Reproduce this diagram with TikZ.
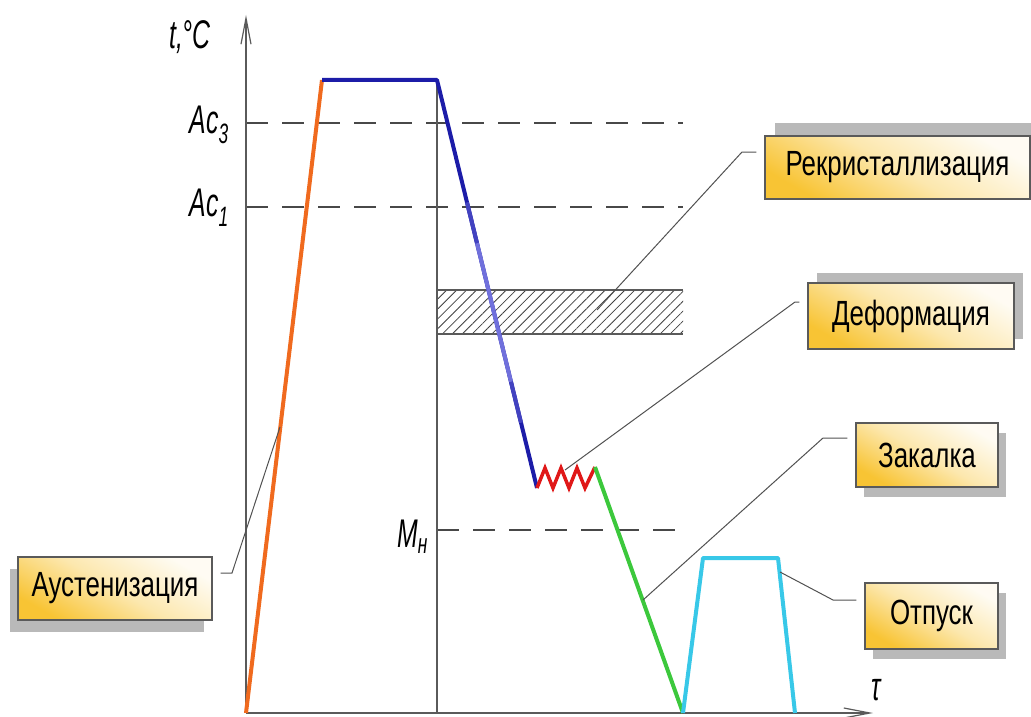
\documentclass[tikz,border=0pt]{standalone}
\usepackage{fontspec}
\setmainfont{Liberation Sans}
\newfontfamily\boxfont[FakeStretch=0.74]{Liberation Sans}
\newfontfamily\gostfont[FakeStretch=0.62]{Liberation Sans}
\usetikzlibrary{arrows.meta, positioning, shadows, patterns.meta, calc}

\definecolor{heatorange}{HTML}{F06A1E}
\definecolor{holdblue}{HTML}{1C1CA8}
\definecolor{coolblue}{HTML}{7070DC}
\definecolor{quenchgreen}{HTML}{3CC83C}
\definecolor{tempercyan}{HTML}{38C8E8}
\definecolor{deformred}{HTML}{E01818}
\definecolor{boxgold}{HTML}{F8C434}
\definecolor{axisgray}{HTML}{5A5A5A}

\begin{document}
\begin{tikzpicture}[
        x=1pt, y=-1pt,
        axis/.style={draw=axisgray, line width=1.4pt, -{Straight Barb[length=26pt, width=10pt, line width=1.2pt]}},
        level/.style={draw=axisgray!80!black, line width=1.2pt, dash pattern=on 22pt off 14pt},
        curve/.style={line width=4pt, line join=round},
        leader/.style={draw=axisgray!90!black, line width=1pt, shorten <=8pt},
        axislabel/.style={inner sep=0pt, font=\gostfont\itshape\fontsize{40}{44}\selectfont}
    ]

    \tikzset{
    box/.style={draw=axisgray, line width=1.2pt, inner sep=0pt,
        bottom color=boxgold, top color=boxgold!6!white, middle color=boxgold!40!white,
        shading angle=-30, font=\boxfont\fontsize{35}{40}\selectfont},
    shadowed/.style args={#1/#2}{drop shadow={shadow xshift=#1pt, shadow yshift=#2pt, fill=gray!55, opacity=1}}
}

    \useasboundingbox (0,0) rectangle (1031,717);

    \coordinate (O) at (246,713);
    \coordinate (ytip) at (246,15);
    \coordinate (xtip) at (873,713);
    \coordinate (heattop) at (322,80);
    \coordinate (holdend) at (437,80);
    \coordinate (deformstart) at (537,488);
    \coordinate (deformend) at (595,467);
    \coordinate (quenchend) at (683,713);
    \coordinate (temperup) at (703,558);
    \coordinate (temperhold) at (778,558);
    \coordinate (temperend) at (795,713);

    \fill[pattern={Lines[angle=45, distance=7pt, line width=0.8pt]}, pattern color=black!75]
        (437,290) rectangle (683,334);
    \draw[axisgray, line width=1.2pt] (437,290) -- (683,290) (437,334) -- (683,334);

    \draw[level] (246,123) -- (683,123);
    \draw[level] (246,207) -- (683,207);
    \draw[level] (437,530) -- (683,530);
    \draw[axisgray, line width=1.3pt] (holdend) -- (437,713);

    \draw[axis] (O) -- (ytip);
    \draw[axis] (O) -- (xtip);

    \draw[curve, heatorange] (O) -- (heattop);
    \draw[curve, holdblue] (heattop) -- (holdend) -- (deformstart);
    \draw[line width=4pt, holdblue!55!coolblue] ($(holdend)!0.30!(deformstart)$) -- ($(holdend)!0.40!(deformstart)$);
    \draw[line width=4pt, coolblue] ($(holdend)!0.40!(deformstart)$) -- ($(holdend)!0.74!(deformstart)$);
    \draw[line width=4pt, holdblue!55!coolblue] ($(holdend)!0.74!(deformstart)$) -- ($(holdend)!0.84!(deformstart)$);
    \draw[deformred, line width=3.5pt, line join=miter] (deformstart) -- (545,468) -- (553,488) -- (561,468)
        -- (569,488) -- (577,468) -- (585,488) -- (deformend);
    \draw[curve, quenchgreen] (deformend) -- (quenchend);
    \draw[curve, tempercyan] (quenchend) -- (temperup) -- (temperhold) -- (temperend);

    \node[axislabel] (tlabel) at (190,37) {t,°C};
    \node[axislabel, anchor=base east] (ac3) at (229,133) {Ac\textsubscript{3}};
    \node[axislabel, anchor=base east] (ac1) at (229,216) {Ac\textsubscript{1}};
    \node[axislabel, anchor=base east] (mn) at (428,547) {M\textsubscript{н}};
    \node[axislabel, anchor=base] (tau) at (876,700) {τ};

    \node[box, shadowed=10/13, minimum width=265pt, minimum height=63pt] (recr) at (897.5,167.5) {Рекристаллизация};
    \node[box, shadowed=9/10, minimum width=206pt, minimum height=66pt] (deform) at (911,316) {Деформация};
    \node[box, shadowed=-8/-12, minimum width=194pt, minimum height=63pt] (austen) at (115,588.5) {Аустенизация};
    \node[box, shadowed=8/-10, minimum width=142pt, minimum height=64pt] (quench) at (927,455) {Закалка};
    \node[box, shadowed=8/-10, minimum width=133pt, minimum height=66pt] (temper) at (931.5,616) {Отпуск};

    \coordinate (recrknee) at (742,152);
    \coordinate (recrend) at (597,310);
    \coordinate (deformknee) at (795,302);
    \coordinate (deformtip) at (565,470);
    \coordinate (austenknee) at (232,573);
    \coordinate (austentip) at (280,427);
    \coordinate (quenchknee) at (823,438);
    \coordinate (quenchtip) at (643,600);
    \coordinate (temperknee) at (833,600);
    \coordinate (tempertip) at (780,572);

    \draw[leader] (recr.west |- recrknee) -- (recrknee) -- (recrend);
    \draw[leader] (deform.west |- deformknee) -- (deformknee) -- (deformtip);
    \draw[leader] (austen.east |- austenknee) -- (austenknee) -- (austentip);
    \draw[leader] (quench.west |- quenchknee) -- (quenchknee) -- (quenchtip);
    \draw[leader] (temper.west |- temperknee) -- (temperknee) -- (tempertip);
    \end{tikzpicture}
\end{document}
